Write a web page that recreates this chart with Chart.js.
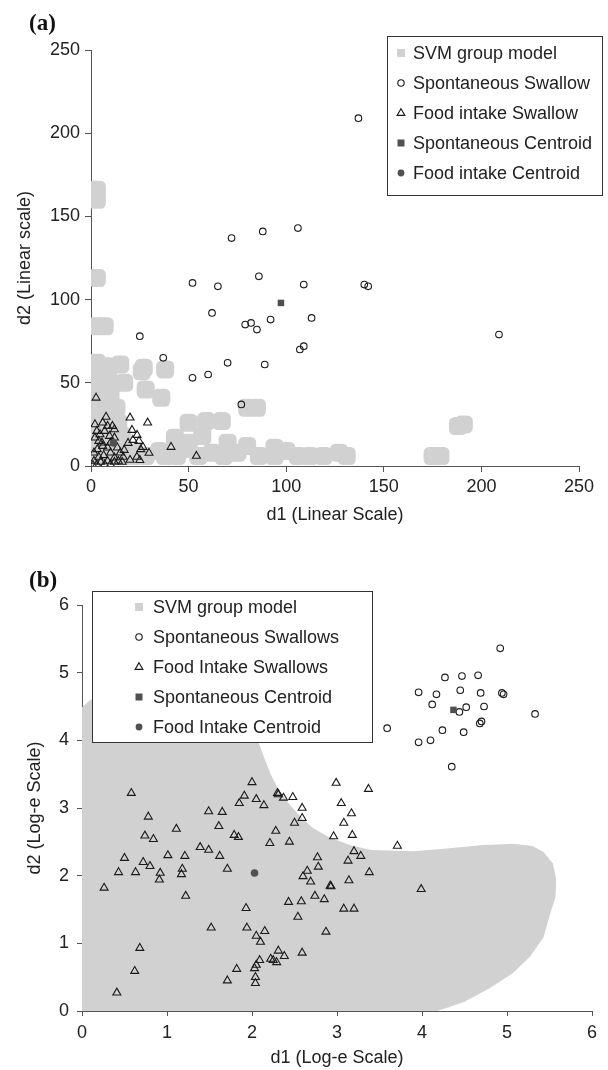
<!DOCTYPE html>
<html>
<head>
<meta charset="utf-8">
<script src="https://cdn.jsdelivr.net/npm/chart.js@4.4.1/dist/chart.umd.min.js"></script>
<style>
  html, body { margin: 0; padding: 0; background: #fff; }
  #page { position: relative; width: 608px; height: 1070px; }
  canvas { position: absolute; left: 0; }
  #chartA { top: 0; }
  #chartB { top: 535px; }
  .tag { position: absolute; left: 29px; font: bold 23px "Liberation Serif", "Times New Roman", serif; line-height: 1; color: #111; }
</style>
</head>
<body>
<div id="page">
  <canvas id="chartA" width="608" height="535"></canvas>
  <canvas id="chartB" width="608" height="535"></canvas>
  <div class="tag" style="top:11px">(a)</div>
  <div class="tag" style="top:568px">(b)</div>
</div>
<script>
// ---- data (a): linear scale ----
const linTicks = [0, 50, 100, 150, 200, 250];
const namesLin = ['SVM group model', 'Spontaneous Swallow', 'Food intake Swallow', 'Spontaneous Centroid', 'Food intake Centroid'];

// SVM group model blobs [d1, d2]
const svmLin = [
  [3,160],[3,166],[3,113],[3,84],[7,84],
  [3,62],[8,60],[15,61],[26,57],[27,59],[38,58],
  [3,53],[9,52],[17,50],[28,46],[36,41],
  [3,44],[10,43],[3,36],[8,36],[13,35],[3,28],[9,28],[14,26],[3,20],[9,19],[16,18],
  [3,12],[9,11],[16,10],[22,8],[3,6],[9,6],[16,6],[22,6],[28,6],
  [35,9],[38,6],[43,17],[44,6],[47,10],[50,26],[50,14],[55,6],[57,18],[59,27],[62,8],
  [67,27],[68,6],[70,14],[75,8],[80,12],[80,35],[85,35],[86,6],[94,11],[94,6],[100,9],
  [106,6],[112,6],[119,6],[127,8],[131,6],[175,6],[179,6],[188,24],[191,25]
];
const spontLin = [
  [72,137],[88,141],[106,143],[137,209],[25,78],[37,65],[52,110],[65,108],[62,92],
  [86,114],[79,85],[82,86],[85,82],[92,88],[52,53],[60,55],[70,62],[89,61],[77,37],
  [107,70],[109,72],[109,109],[140,109],[142,108],[113,89],[209,79]
];
const foodLin = [
  [2.6,41],[7.7,29.5],[2,25],[20,29],[29,26],[21,21.6],[23.6,18.6],[41,11.4],[54,6],[29.7,7.8],
  [21.5,15.6],[24.6,15],[19,13.8],[26.6,11.4],[25.5,10],[23.5,5.4],[25,3.5],[20,3.6],[16.5,5.4],
  [15,8],[12,5],[6,26],[8.5,24],[11,24],[12,22],[4.6,19],[7,21],[9.5,18],[4,15],[2,17],[5.6,14],
  [8.5,11],[3.2,10],[1.5,8],[4,5.4],[6.5,6.4],[10,8],[1.5,3],[5,2.4],[8.5,3],[12,2.4],[14,3],
  [16,2.4],[1,0.5],[13.5,11],[17,9.6],[3,1],[7,1],[10,1],[6,12],[10,14],[3,21],[12,17]
];
const spontCentLin = [[97.3, 98]];
const foodCentLin = [[11.5, 13.8]];

// ---- data (b): log-e scale ----
const logTicks = [0, 1, 2, 3, 4, 5, 6];
const namesLog = ['SVM group model', 'Spontaneous Swallows', 'Food Intake Swallows', 'Spontaneous Centroid', 'Food Intake Centroid'];

// SVM region outline: upper and lower edge
const svmUpper = [
  [-0.06,4.42],[0.1,4.6],[0.3,4.65],[0.8,4.62],[1.3,4.5],[1.7,4.3],[1.95,4.12],[2.08,3.96],
  [2.15,3.72],[2.22,3.5],[2.3,3.3],[2.43,3.07],[2.57,2.87],[2.72,2.7],[2.92,2.56],[3.16,2.45],
  [3.4,2.38],[3.9,2.36],[4.29,2.4],[4.69,2.45],[5.07,2.47],[5.3,2.44],[5.43,2.35],[5.54,2.18],[5.58,1.94]
];
const svmLower = [
  [-0.06,0],[4.18,0],[4.49,0.13],[4.8,0.34],[5.07,0.56],[5.27,0.8],[5.43,1.09],[5.51,1.45],[5.57,1.68],[5.58,1.94]
];
const spontLog = [
  [4.92,5.36],[4.27,4.93],[4.47,4.95],[4.66,4.96],[3.96,4.71],[4.17,4.68],[4.45,4.74],[4.69,4.7],
  [4.94,4.7],[4.96,4.68],[4.12,4.53],[4.52,4.49],[4.73,4.5],[4.44,4.42],[5.33,4.39],[3.59,4.18],
  [4.68,4.25],[4.7,4.28],[4.24,4.15],[4.49,4.12],[3.96,3.97],[4.1,4.0],[4.35,3.61]
];
const foodLog = [
  [0.58,3.22],[0.78,2.87],[1.11,2.69],[0.74,2.59],[0.84,2.54],[0.5,2.26],[1.01,2.3],[1.21,2.29],
  [0.72,2.2],[0.8,2.14],[0.43,2.05],[0.63,2.05],[0.92,2.04],[0.91,1.94],[1.18,2.1],[1.17,2.02],
  [0.26,1.82],[1.22,1.7],[1.39,2.42],[1.49,2.38],[1.62,2.29],[1.71,2.1],[1.49,2.95],[1.65,2.94],
  [1.61,2.73],[1.79,2.6],[1.84,2.57],[1.85,3.07],[1.91,3.18],[2.0,3.38],[2.05,3.13],[2.14,3.04],
  [2.3,3.22],[2.31,3.2],[2.37,3.15],[2.48,3.16],[2.28,2.66],[2.21,2.48],[2.44,2.5],[2.5,2.78],
  [1.93,1.52],[1.52,1.23],[1.94,1.23],[2.05,1.11],[2.15,1.18],[2.1,1.02],[0.68,0.93],[0.62,0.59],
  [0.41,0.27],[1.82,0.62],[1.71,0.45],[2.03,0.63],[2.05,0.68],[2.09,0.75],[2.04,0.5],[2.04,0.41],
  [2.22,0.77],[2.25,0.75],[2.29,0.72],[2.31,0.89],[2.38,0.81],[2.43,1.61],[2.58,1.62],[2.54,1.39],
  [2.59,0.86],[2.99,3.37],[3.37,3.28],[2.59,3.0],[2.59,2.85],[3.05,3.07],[3.17,2.92],[3.08,2.78],
  [2.96,2.58],[3.18,2.6],[3.71,2.44],[2.77,2.27],[3.2,2.36],[3.28,2.29],[3.13,2.22],[2.78,2.13],
  [2.65,2.07],[2.6,1.99],[2.69,1.91],[3.38,2.05],[3.14,1.93],[2.92,1.85],[2.93,1.84],[3.99,1.8],
  [2.74,1.7],[2.85,1.65],[3.08,1.51],[3.2,1.51],[2.87,1.17]
];
const spontCentLog = [[4.37, 4.45]];
const foodCentLog = [[2.03, 2.04]];

// ---- styling ----
const FONT = '"Liberation Sans", Arial, sans-serif';
const SVM_GRAY = '#d1d1d1';
const DARK = '#505050';
const INK = '#1a1a1a';
const pts = arr => arr.map(([x, y]) => ({x, y}));

function axis(o) {
  return {
    type: 'linear', min: o.min, max: o.max,
    afterBuildTicks: s => { s.ticks = o.ticks.map(v => ({value: v})); },
    afterFit: s => { if (o.w) s.width = o.w; if (o.h) s.height = o.h; },
    border: {display: true, color: '#555', width: 1},
    grid: {display: true, drawOnChartArea: false, drawTicks: true, tickLength: o.tick, color: '#555'},
    ticks: {color: '#222', font: {family: FONT, size: 18}, padding: o.pad, maxRotation: 0, autoSkip: false},
    title: {display: true, text: o.title, color: '#222', font: {family: FONT, size: 18}, padding: o.tpad}
  };
}

function marker(ctx, kind, x, y) {
  ctx.beginPath();
  if (kind === 'svm') {
    ctx.fillStyle = SVM_GRAY; ctx.fillRect(x - 4, y - 4, 8, 8);
  } else if (kind === 'open') {
    ctx.arc(x, y, 3.2, 0, Math.PI * 2);
    ctx.strokeStyle = INK; ctx.lineWidth = 1.1; ctx.stroke();
  } else if (kind === 'tri') {
    ctx.moveTo(x, y - 4.3); ctx.lineTo(x + 3.9, y + 2.4); ctx.lineTo(x - 3.9, y + 2.4); ctx.closePath();
    ctx.strokeStyle = INK; ctx.lineWidth = 1.1; ctx.stroke();
  } else if (kind === 'sq') {
    ctx.fillStyle = DARK; ctx.fillRect(x - 3.5, y - 3.5, 7, 7);
  } else {
    ctx.arc(x, y, 3.4, 0, Math.PI * 2); ctx.fillStyle = DARK; ctx.fill();
  }
}

// legend box drawn inside the plot
function boxLegend(id, box, names) {
  const kinds = ['svm', 'open', 'tri', 'sq', 'dot'];
  return {
    id,
    afterDraw(chart) {
      const ctx = chart.ctx;
      ctx.save();
      ctx.fillStyle = '#fff';
      ctx.fillRect(box.x, box.y, box.w, box.h);
      ctx.strokeStyle = '#333'; ctx.lineWidth = 1;
      ctx.strokeRect(box.x + 0.5, box.y + 0.5, box.w, box.h);
      ctx.font = '18px ' + FONT;
      ctx.textBaseline = 'middle';
      names.forEach((name, i) => {
        const y = box.first + i * 30;
        marker(ctx, kinds[i], box.mx, y);
        ctx.fillStyle = '#222';
        ctx.fillText(name, box.tx, y + 1);
      });
      ctx.restore();
    }
  };
}

const openCircle = {pointStyle: 'circle', pointRadius: 3.3, borderColor: INK, borderWidth: 1.1, backgroundColor: 'rgba(0,0,0,0)'};
const openTri = {pointStyle: 'triangle', pointRadius: 4.6, borderColor: INK, borderWidth: 1.1, backgroundColor: 'rgba(0,0,0,0)'};
const darkSq = {pointStyle: 'rect', pointRadius: 4.6, borderWidth: 0, backgroundColor: DARK};
const darkDot = {pointStyle: 'circle', pointRadius: 3.8, borderWidth: 0, backgroundColor: DARK};

// ---- chart (a) ----
new Chart(document.getElementById('chartA'), {
  type: 'scatter',
  data: {
    datasets: [
      {label: namesLin[0], data: pts(svmLin), pointStyle: 'rectRounded', pointRadius: 10.5, borderWidth: 0, backgroundColor: SVM_GRAY, order: 5},
      Object.assign({label: namesLin[1], data: pts(spontLin), order: 2}, openCircle),
      Object.assign({label: namesLin[2], data: pts(foodLin), order: 2}, openTri),
      Object.assign({label: namesLin[3], data: pts(spontCentLin), order: 1}, darkSq),
      Object.assign({label: namesLin[4], data: pts(foodCentLin), order: 1}, darkDot)
    ]
  },
  options: {
    responsive: false, animation: false, events: [], devicePixelRatio: 1,
    layout: {padding: {top: 50, right: 29, left: 0, bottom: 0}},
    plugins: {legend: {display: false}, tooltip: {enabled: false}},
    scales: {
      x: axis({min: 0, max: 250, ticks: linTicks, h: 69, tick: 6, pad: 4, title: 'd1 (Linear Scale)', tpad: {top: 0, bottom: 9}}),
      y: axis({min: 0, max: 250, ticks: linTicks, w: 91, tick: 6, pad: 5, title: 'd2 (Linear scale)', tpad: {top: 14, bottom: 0}})
    }
  },
  plugins: [boxLegend('legendA', {x: 387, y: 36, w: 215, h: 159, mx: 401, tx: 413, first: 53}, namesLin)]
});

// ---- chart (b) ----
new Chart(document.getElementById('chartB'), {
  type: 'scatter',
  data: {
    datasets: [
      {type: 'line', label: namesLog[0], data: pts(svmUpper), fill: '+1', backgroundColor: SVM_GRAY,
       borderColor: 'rgba(0,0,0,0)', borderWidth: 0, pointRadius: 0, tension: 0, order: 5},
      {type: 'line', label: 'svm lower', data: pts(svmLower), fill: false,
       borderColor: 'rgba(0,0,0,0)', borderWidth: 0, pointRadius: 0, tension: 0, order: 6},
      Object.assign({label: namesLog[1], data: pts(spontLog), order: 2}, openCircle),
      Object.assign({label: namesLog[2], data: pts(foodLog), order: 2}, openTri),
      Object.assign({label: namesLog[3], data: pts(spontCentLog), order: 1}, darkSq),
      Object.assign({label: namesLog[4], data: pts(foodCentLog), order: 1}, darkDot)
    ]
  },
  options: {
    responsive: false, animation: false, events: [], devicePixelRatio: 1,
    layout: {padding: {top: 70, right: 16, left: 0, bottom: 0}},
    plugins: {legend: {display: false}, tooltip: {enabled: false}},
    scales: {
      x: axis({min: 0, max: 6, ticks: logTicks, h: 59, tick: 5, pad: 6, title: 'd1 (Log-e Scale)', tpad: {top: 0, bottom: 1}}),
      y: axis({min: 0, max: 6, ticks: logTicks, w: 82, tick: 5, pad: 8, title: 'd2 (Log-e Scale)', tpad: {top: 24, bottom: 0}})
    }
  },
  plugins: [boxLegend('legendB', {x: 92, y: 56, w: 280, h: 151, mx: 139, tx: 153, first: 72}, namesLog)]
});
</script>
</body>
</html>
